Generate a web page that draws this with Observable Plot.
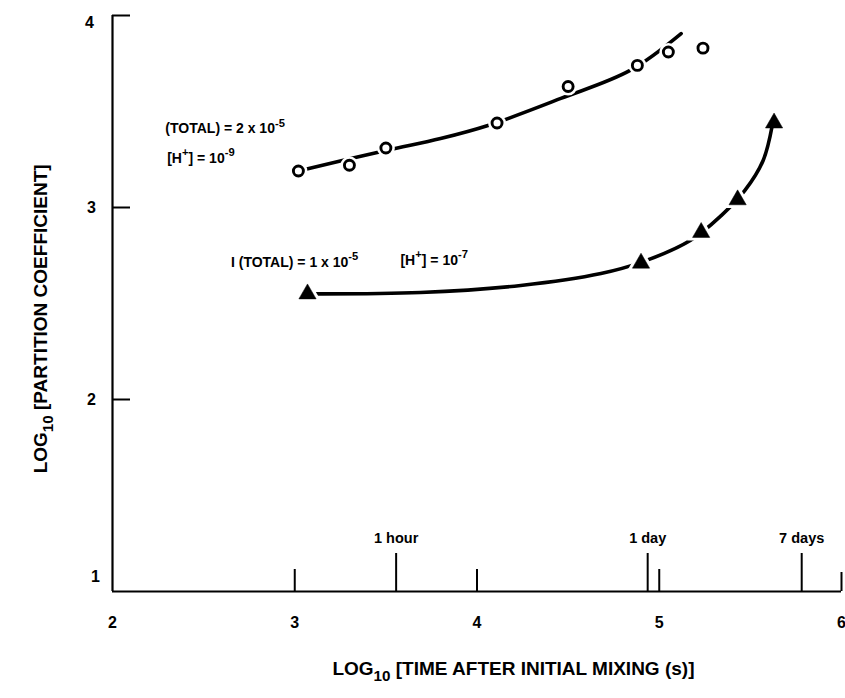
<!DOCTYPE html>
<html>
<head>
<meta charset="utf-8">
<script src="https://cdn.jsdelivr.net/npm/d3@7"></script>
<script src="https://cdn.jsdelivr.net/npm/@observablehq/plot@0.6"></script>
<style>
  html, body { margin: 0; padding: 0; background: #fff; }
  #chart svg { display: block; }
</style>
</head>
<body>
<div id="chart"></div>
<script>
// ---- data ----
// upper series: (TOTAL) = 2 x 10^-5, [H+] = 10^-9 (open circles)
const circleX = [3.02, 3.30, 3.50, 4.11, 4.50, 4.88, 5.05, 5.24];
const circleY = [3.19, 3.22, 3.31, 3.44, 3.63, 3.74, 3.81, 3.83];
// hand-drawn fitted curve through the circles
const circleFitX = [3.02, 3.50, 3.80, 4.06, 4.46, 4.84, 5.12];
const circleFitY = [3.19, 3.297, 3.359, 3.427, 3.568, 3.714, 3.906];
// lower series: I (TOTAL) = 1 x 10^-5, [H+] = 10^-7 (filled triangles)
const triangleX = [3.07, 4.90, 5.23, 5.43, 5.63];
const triangleY = [2.55, 2.71, 2.87, 3.04, 3.44];
// hand-drawn fitted curve through the triangles
const triangleFitX = [3.07, 3.69, 4.24, 4.68, 4.90, 5.17, 5.34, 5.47, 5.57, 5.62];
const triangleFitY = [2.55, 2.557, 2.594, 2.656, 2.714, 2.828, 2.958, 3.089, 3.245, 3.427];

const xTicks = [2, 3, 4, 5, 6];
const yTicks = [1, 2, 3, 4];
const timeSeconds = [3600, 86400, 604800];
const timeLabels = ["1 hour", "1 day", "7 days"];

const annotations = [
  "(TOTAL) = 2 x 10^{-5}",
  "[H^{+}] = 10^{-9}",
  "I (TOTAL) = 1 x 10^{-5}",
  "[H^{+}] = 10^{-7}"
];
const xTitle = "LOG_{10} [TIME AFTER INITIAL MIXING (s)]";
const yTitle = "LOG_{10} [PARTITION COEFFICIENT]";

// ---- layout ----
const W = 845, H = 698;
const mL = 112, mR = 4, mT = 15, mB = 107;
const frameW = W - mL - mR, frameH = H - mT - mB;
const timeX = timeSeconds.map(s => Math.log10(s));
const ci = d3.range(circleX.length);
const ti = d3.range(triangleX.length);
const cfi = d3.range(circleFitX.length);
const tfi = d3.range(triangleFitX.length);
const font = "'Liberation Sans', Arial, Helvetica, sans-serif";

const chart = Plot.plot({
  width: W, height: H,
  marginLeft: mL, marginRight: mR, marginTop: mT, marginBottom: mB,
  x: {domain: [2, 6], axis: null},
  y: {domain: [1, 4], axis: null},
  style: {fontFamily: font, fontWeight: "bold", color: "#000", background: "#fff", overflow: "visible"},
  marks: [
    // axes
    Plot.ruleX([2], {y1: 1, y2: 4, stroke: "#000", strokeWidth: 2.2}),
    Plot.ruleY([1], {x1: 2, x2: 6, stroke: "#000", strokeWidth: 2.2}),
    Plot.tickY(yTicks.filter(d => d > 1), {y: d => d, insetRight: frameW - 18, stroke: "#000", strokeWidth: 2}),
    Plot.tickX(xTicks.filter(d => d > 2 && d < 6), {x: d => d, insetTop: frameH - 22, stroke: "#000", strokeWidth: 2}),
    Plot.tickX(xTicks.filter(d => d === 6), {x: d => d, insetTop: frameH - 19, stroke: "#000", strokeWidth: 2}),
    Plot.tickX(timeX, {x: d => d, insetTop: frameH - 38, stroke: "#000", strokeWidth: 2}),
    // tick labels
    Plot.text(xTicks, {x: d => d, y: 1, dy: 31, text: d => String(d), fontSize: 16, fontWeight: "bold"}),
    Plot.text(yTicks.filter(d => d > 1 && d < 4), {x: 2, y: d => d, dx: -21, text: d => String(d), fontSize: 16, fontWeight: "bold"}),
    Plot.text(yTicks.filter(d => d === 4), {x: 2, y: d => d, dx: -23, dy: 7, text: d => String(d), fontSize: 16, fontWeight: "bold"}),
    Plot.text(yTicks.filter(d => d === 1), {x: 2, y: d => d, dx: -17, dy: -15, text: d => String(d), fontSize: 16, fontWeight: "bold"}),
    Plot.text(d3.range(timeX.length), {x: i => timeX[i], y: 1, dy: -53, text: i => timeLabels[i], fontSize: 14.5, fontWeight: "bold"}),
    // axis titles
    Plot.text([xTitle], {x: 4.2, y: 1, dy: 77, text: d => d, fontSize: 19, fontWeight: "bold"}),
    Plot.text([yTitle], {x: 2, y: 2.42, dx: -72, rotate: -90, text: d => d, fontSize: 19, fontWeight: "bold"}),
    // annotations
    Plot.text([annotations[0]], {x: 2.29, y: 3.41, text: d => d, textAnchor: "start", fontSize: 14, fontWeight: "bold"}),
    Plot.text([annotations[1]], {x: 2.30, y: 3.255, text: d => d, textAnchor: "start", fontSize: 14, fontWeight: "bold"}),
    Plot.text([annotations[2]], {x: 2.65, y: 2.715, text: d => d, textAnchor: "start", fontSize: 14, fontWeight: "bold"}),
    Plot.text([annotations[3]], {x: 3.58, y: 2.725, text: d => d, textAnchor: "start", fontSize: 14, fontWeight: "bold"}),
    // fitted curves
    Plot.line(cfi, {x: i => circleFitX[i], y: i => circleFitY[i], curve: "catmull-rom", stroke: "#000", strokeWidth: 3.6, strokeLinecap: "round"}),
    Plot.line(tfi, {x: i => triangleFitX[i], y: i => triangleFitY[i], curve: "catmull-rom", stroke: "#000", strokeWidth: 3.6, strokeLinecap: "round"}),
    // white halos that break the curves around markers
    Plot.dot(ci, {x: i => circleX[i], y: i => circleY[i], r: 9, fill: "#fff"}),
    Plot.dot(ti.slice(0, -1), {x: i => triangleX[i], y: i => triangleY[i], symbol: "triangle", r: 10.5, fill: "#fff"}),
    // markers
    Plot.dot(ci, {x: i => circleX[i], y: i => circleY[i], r: 5, fill: "#fff", stroke: "#000", strokeWidth: 2.9}),
    Plot.dot(ti, {x: i => triangleX[i], y: i => triangleY[i], symbol: "triangle", r: 6.4, fill: "#000", stroke: "#000", strokeWidth: 0.5})
  ]
});

// turn ^{..} and _{..} markup into real superscript / subscript tspans
function richify(svg) {
  d3.select(svg).selectAll("text").each(function () {
    const s = this.textContent;
    if (!/[\^_]\{/.test(s)) return;
    const el = d3.select(this);
    el.text(null);
    const re = /([\^_])\{([^}]*)\}/g;
    const parts = [];
    let last = 0, m;
    while ((m = re.exec(s))) {
      if (m.index > last) parts.push({t: s.slice(last, m.index), k: null});
      parts.push({t: m[2], k: m[1]});
      last = re.lastIndex;
    }
    if (last < s.length) parts.push({t: s.slice(last), k: null});
    let cur = 0;
    parts.forEach(p => {
      const target = p.k === "^" ? -0.48 : p.k === "_" ? 0.32 : 0;
      const size = p.k === "^" ? 0.8 : p.k === "_" ? 0.8 : 1;
      const ts = el.append("tspan").text(p.t);
      if (p.k) ts.attr("font-size", (size * 100) + "%");
      const d = target - cur;
      if (d !== 0) ts.attr("dy", (d / size).toFixed(3) + "em");
      cur = target;
    });
  });
}
richify(chart);
document.getElementById("chart").appendChild(chart);
</script>
</body>
</html>
